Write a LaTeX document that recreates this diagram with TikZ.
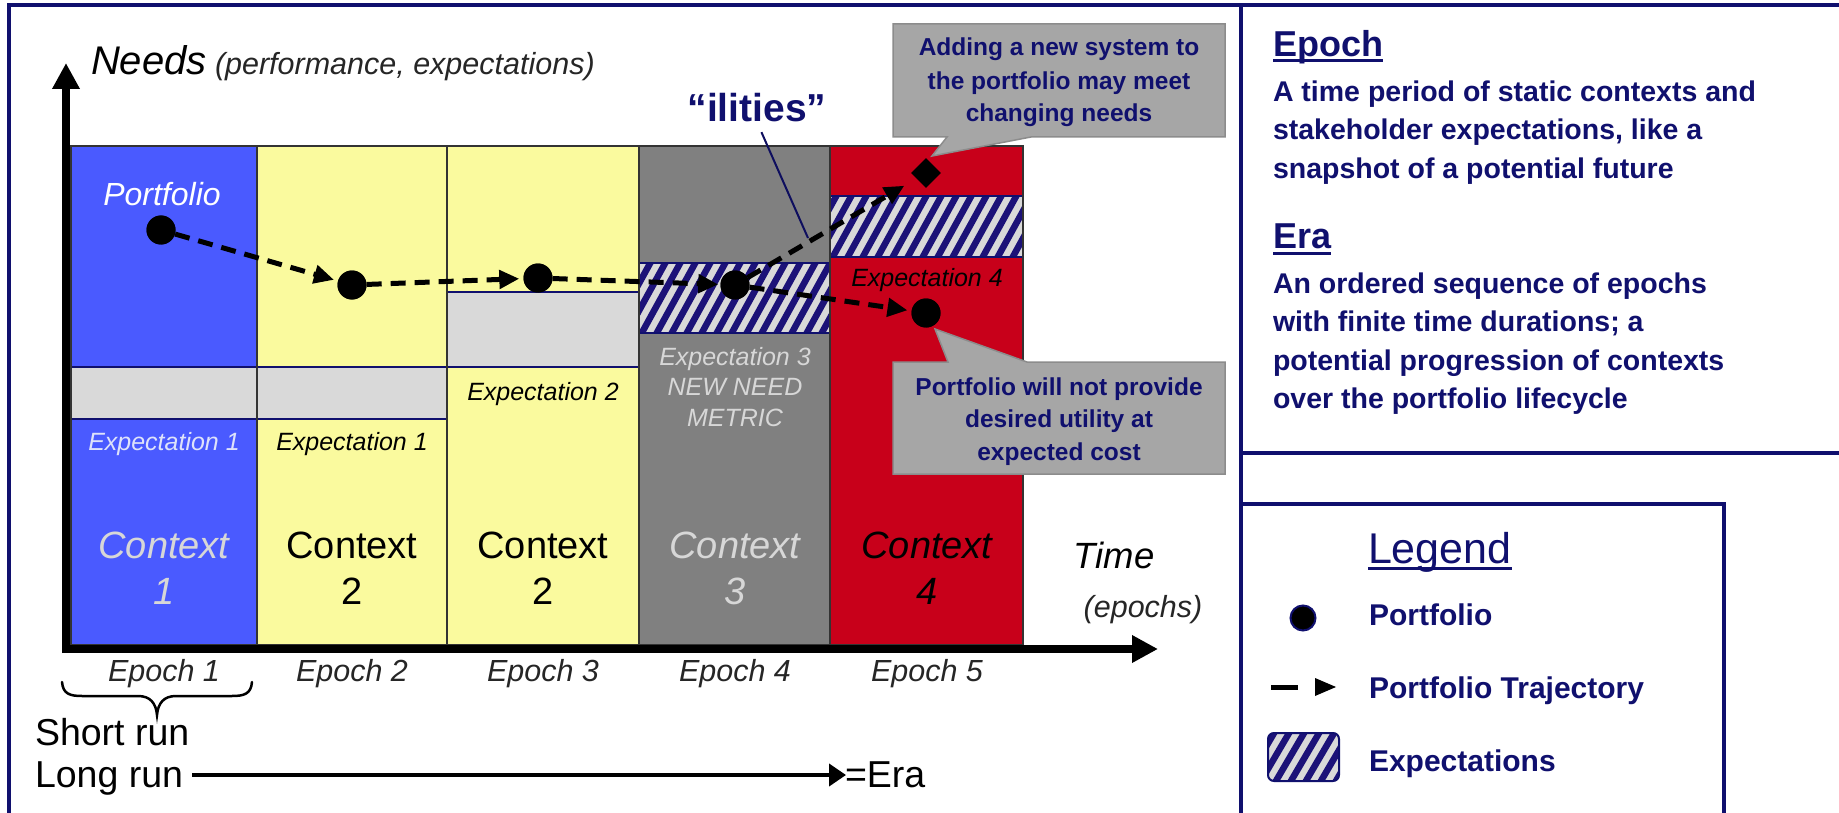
\documentclass[tikz,border=0pt]{standalone}
\usepackage{fontspec}
\setmainfont{Liberation Sans}
\usetikzlibrary{arrows.meta,shapes.geometric}
\definecolor{navy}{RGB}{16,16,110}
\definecolor{hnavy}{RGB}{28,18,120}
\definecolor{bblue}{RGB}{74,90,255}
\definecolor{byellow}{RGB}{250,250,158}
\definecolor{bgray}{RGB}{128,128,128}
\definecolor{bred}{RGB}{200,0,26}
\definecolor{lgray}{RGB}{217,217,217}
\definecolor{cgray}{RGB}{166,166,166}
\definecolor{cborder}{RGB}{140,140,140}
\definecolor{paleblue}{RGB}{222,226,250}
\definecolor{palegray}{RGB}{215,215,215}
\newcommand{\fsz}[1]{\fontsize{#1pt}{#1pt}\selectfont}
\newcommand{\hatchband}[4]{%
  \begin{scope}
    \clip (#1,#2) rectangle (#3,#4);
    \fill[lgray] (#1,#2) rectangle (#3,#4);
    \pgfmathsetmacro{\hh}{#4-#2}
    \foreach \k in {0,...,22}{
      \draw[hnavy, line width=6.5pt] ({#1-60+15*\k},{#4+5}) -- ++({0.55*(\hh+10)},{-(\hh+10)});
    }
  \end{scope}
  \draw[navy, line width=1.5pt] (#1,#2) rectangle (#3,#4);
}
\begin{document}
\begin{tikzpicture}[x=1pt,y=-1pt,
  lbl/.style={inner sep=0pt, outer sep=0pt},
  dot/.style={circle, fill=black, inner sep=0pt, minimum size=29pt},
  traj/.style={black, line width=5pt, dash pattern=on 15pt off 9pt, -{Triangle[length=20pt,width=18pt]}, shorten >=4pt},
  axisline/.style={black, line width=8pt, -{Triangle[length=26pt,width=26pt]}},
  frameline/.style={navy, line width=3.5pt},
  callout/.style={fill=cgray, draw=cborder, line width=1.5pt},
  ctext/.style={lbl, anchor=base, text=navy, font=\fsz{24.5}\bfseries},
  rtext/.style={lbl, anchor=base west, text=navy, font=\fsz{28.5}\bfseries},
  rhead/.style={lbl, anchor=base west, text=navy, font=\fsz{36}\bfseries},
  ltext/.style={lbl, anchor=base west, text=navy, font=\fsz{30}\bfseries},
  exptext/.style={lbl, anchor=base, font=\fsz{25}\itshape},
  ctxtext/.style={lbl, anchor=base, font=\fsz{38}},
  epochtext/.style={lbl, anchor=base, text=black!85, font=\fsz{30.5}\itshape},
  blockline/.style={draw=black!80, line width=1.5pt},
  bandline/.style={draw=navy, line width=1.5pt}
]
\useasboundingbox (0,0) rectangle (1839,813);
\fill[white] (0,0) rectangle (1839,813);

% ---------- blocks ----------
\fill[bblue] (71,146) rectangle (257,645);
\fill[byellow] (257,146) rectangle (447,645);
\fill[byellow] (447,146) rectangle (639,645);
\fill[bgray] (639,146) rectangle (830,645);
\fill[bred] (830,146) rectangle (1023,645);
\filldraw[fill=lgray, bandline] (71,367) rectangle (257,419);
\filldraw[fill=lgray, bandline] (257,367) rectangle (447,419);
\filldraw[fill=lgray, bandline] (447,292) rectangle (639,367);
\hatchband{639}{263}{830}{333}
\hatchband{830}{196}{1023}{257}
\draw[blockline] (71,146) rectangle (257,645);
\draw[blockline] (257,146) rectangle (447,645);
\draw[blockline] (447,146) rectangle (639,645);
\draw[blockline] (639,146) rectangle (830,645);
\draw[blockline] (830,146) rectangle (1023,645);

% ---------- block texts ----------
\node[lbl, anchor=base, text=white, font=\fsz{32}\itshape] (pf) at (162,205.7) {Portfolio};
\node[exptext, text=paleblue] (e1a) at (164,450) {Expectation 1};
\node[exptext, text=black] (e1b) at (352,450) {Expectation 1};
\node[exptext, text=black] (e2) at (543,400) {Expectation 2};
\node[exptext, text=palegray] (e3) at (735,365) {Expectation 3};
\node[exptext, text=palegray] (e3b) at (735,395) {NEW NEED};
\node[exptext, text=palegray] (e3c) at (735,426) {METRIC};
\node[exptext, text=black] (e4) at (927,286.7) {Expectation 4};

\node[ctxtext, text=palegray, font=\fsz{38}\itshape] (c1a) at (164,558) {Context};
\node[ctxtext, text=palegray, font=\fsz{38}\itshape] (c1b) at (164,604) {1};
\node[ctxtext, text=black] (c2a) at (352,558) {Context};
\node[ctxtext, text=black] (c2b) at (352,604) {2};
\node[ctxtext, text=black] (c3a) at (543,558) {Context};
\node[ctxtext, text=black] (c3b) at (543,604) {2};
\node[ctxtext, text=palegray, font=\fsz{38}\itshape] (c4a) at (735,558) {Context};
\node[ctxtext, text=palegray, font=\fsz{38}\itshape] (c4b) at (735,604) {3};
\node[ctxtext, text=black, font=\fsz{38}\itshape] (c5a) at (927,558) {Context};
\node[ctxtext, text=black, font=\fsz{38}\itshape] (c5b) at (927,604) {4};

% ---------- axes ----------
\coordinate (yo) at (66,653);
\coordinate (ye) at (66,63);
\coordinate (xo) at (62,649);
\coordinate (xe) at (1158,649);
\draw[axisline] (yo) -- (ye);
\draw[axisline] (xo) -- (xe);

\node[lbl, anchor=base west, font=\fsz{40}\itshape] (needs) at (91,75) {Needs};
\node[lbl, anchor=base west, text=black!85, font=\fsz{30.5}\itshape] (perf) at (215,75) {(performance, expectations)};
\node[lbl, anchor=base, font=\fsz{36.5}\itshape] (time) at (1114,568) {Time};
\node[lbl, anchor=base, text=black!85, font=\fsz{30.5}\itshape] (epochs) at (1143,617) {(epochs)};

\node[epochtext] (ep1) at (164,681.7) {Epoch 1};
\node[epochtext] (ep2) at (352,681.7) {Epoch 2};
\node[epochtext] (ep3) at (543,681.7) {Epoch 3};
\node[epochtext] (ep4) at (735,681.7) {Epoch 4};
\node[epochtext] (ep5) at (927,681.7) {Epoch 5};

% brace
\draw[black, line width=2.5pt, line cap=round]
  (62,682) .. controls (63,694) and (70,696) .. (82,696) -- (138,696)
  .. controls (150,696) and (156,703) .. (157,715)
  .. controls (158,703) and (164,696) .. (176,696) -- (232,696)
  .. controls (244,696) and (251,694) .. (252,682);

\node[lbl, anchor=base west, font=\fsz{37.5}] (short) at (35,745) {Short run};
\node[lbl, anchor=base west, font=\fsz{37.5}] (long) at (35,787) {Long run};
\node[lbl, anchor=base west, font=\fsz{37.5}] (era) at (845,787) {=Era};
\coordinate (lrs) at (192,775);
\coordinate (lre) at (846,775);
\draw[black, line width=4pt, -{Triangle[length=17pt,width=22pt]}] (lrs) -- (lre);

% ---------- trajectory ----------
\node[dot] (d1) at (161,230) {};
\node[dot] (d2) at (352,285) {};
\node[dot] (d3) at (538,278) {};
\node[dot] (d4) at (735,285) {};
\node[dot] (d5) at (926,313) {};
\node[diamond, fill=black, inner sep=0pt, minimum width=30pt, minimum height=30pt] (dm) at (926,173) {};
\draw[traj] (d1) -- (d2);
\draw[traj] (d2) -- (d3);
\draw[traj, shorten >=2pt] (d3) -- (d4);
\draw[traj] (d4) -- (d5);
\draw[traj, shorten >=14pt] (d4) -- (dm);
\node[dot] at (d1) {};
\node[dot] at (d2) {};
\node[dot] at (d3) {};
\node[dot] at (d4) {};
\node[dot] at (d5) {};

% ilities
\node[lbl, anchor=base, text=navy, font=\fsz{39}\bfseries] (ilt) at (757,121.7) {“ilities”};
\coordinate (ilp) at (808,238);
\draw[navy!85!black, line width=2pt, shorten <=11pt] (ilt.south) -- (ilp);

% ---------- callouts ----------
\draw[callout] (893,24) -- (1225,24) -- (1225,137) -- (1031,137) -- (932,156) -- (947,137) -- (893,137) -- cycle;
\node[ctext] (ca1) at (1059,56) {Adding a new system to};
\node[ctext] (ca2) at (1059,89.3) {the portfolio may meet};
\node[ctext] (ca3) at (1059,121.5) {changing needs};

\draw[callout] (893,362) -- (948,362) -- (935,329) -- (1027,362) -- (1225,362) -- (1225,474) -- (893,474) -- cycle;
\node[ctext] (cb1) at (1059,395) {Portfolio will not provide};
\node[ctext] (cb2) at (1059,427.5) {desired utility at};
\node[ctext] (cb3) at (1059,460) {expected cost};

% ---------- frame ----------
\draw[frameline] (9,813) -- (9,5) -- (1839,5);
\draw[frameline] (1241,5) -- (1241,813);
\draw[frameline] (1241,453) -- (1839,453);
\draw[frameline] (1241,504) -- (1724,504) -- (1724,813);

% ---------- right panel ----------
\node[rhead] (eph) at (1273,56.5) {Epoch};
\draw[navy, line width=3pt] ([yshift=-4.5pt]eph.base west) -- ([yshift=-4.5pt]eph.base east);
\node[rtext] (r1) at (1273,101.7) {A time period of static contexts and};
\node[rtext] (r2) at (1273,140) {stakeholder expectations, like a};
\node[rtext] (r3) at (1273,178.3) {snapshot of a potential future};
\node[rhead] (erh) at (1273,248.3) {Era};
\draw[navy, line width=3pt] ([yshift=-5.5pt]erh.base west) -- ([yshift=-5.5pt]erh.base east);
\node[rtext] (r4) at (1273,293.3) {An ordered sequence of epochs};
\node[rtext] (r5) at (1273,331.6) {with finite time durations; a};
\node[rtext] (r6) at (1273,370) {potential progression of contexts};
\node[rtext] (r7) at (1273,408.3) {over the portfolio lifecycle};

% ---------- legend ----------
\node[lbl, anchor=base west, text=navy, font=\fsz{43}] (lgh) at (1368,563.3) {Legend};
\draw[navy, line width=3pt] ([yshift=-5pt]lgh.base west) -- ([yshift=-5pt]lgh.base east);
\node[circle, fill=black, draw=navy, line width=2pt, minimum size=25pt, inner sep=0pt] (lgdot) at (1303,618) {};
\node[ltext] (lg1) at (1369,625) {Portfolio};
\coordinate (lga) at (1271,687);
\coordinate (lgb) at (1298,687);
\draw[black, line width=5pt] (lga) -- (lgb);
\fill[black] (1315,678) -- (1336,687) -- (1315,696) -- cycle;
\node[ltext] (lg2) at (1369,698.3) {Portfolio Trajectory};
\begin{scope}
  \clip[rounded corners=6pt] (1268,733) rectangle (1339,781);
  \fill[lgray] (1268,733) rectangle (1339,781);
  \foreach \k in {0,...,9}{
    \draw[hnavy, line width=6.5pt] ({1268-40+15*\k},786) -- ++(34,-58);
  }
\end{scope}
\draw[navy, line width=2pt, rounded corners=6pt] (1268,733) rectangle (1339,781);
\node[ltext] (lg3) at (1369,771.7) {Expectations};
\end{tikzpicture}
\end{document}
